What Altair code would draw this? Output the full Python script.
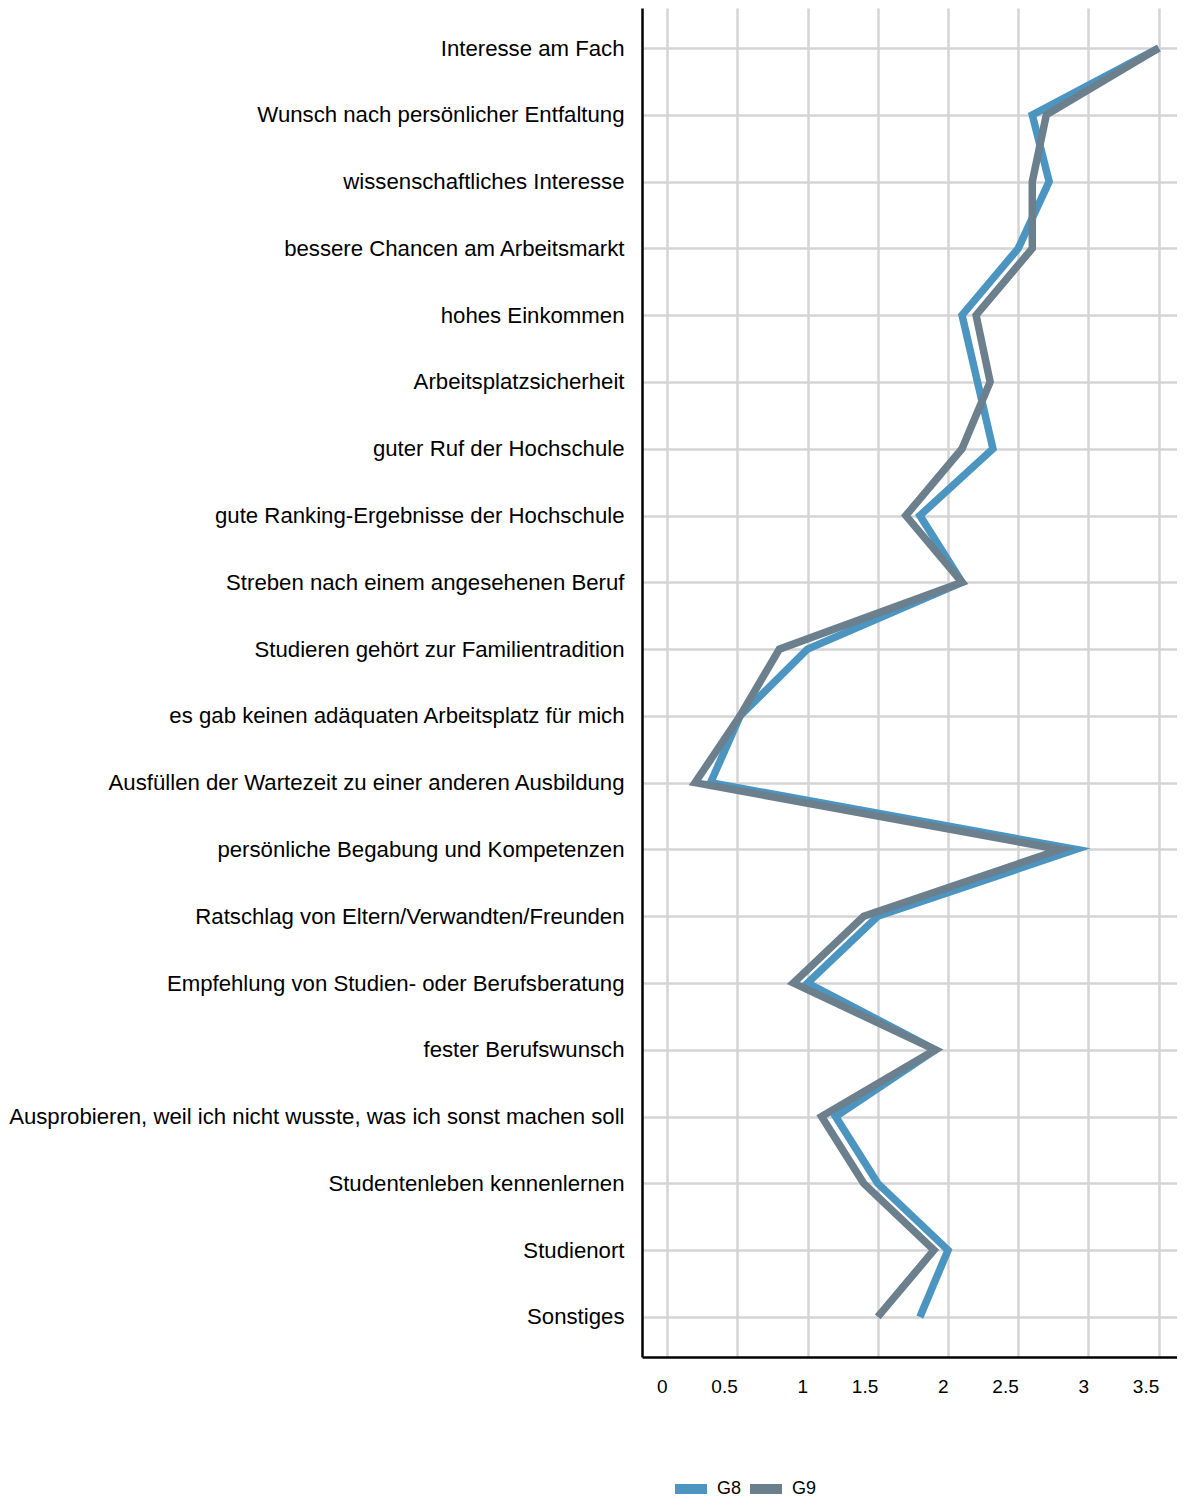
import altair as alt
import pandas as pd

categories = [
    "Interesse am Fach",
    "Wunsch nach persönlicher Entfaltung",
    "wissenschaftliches Interesse",
    "bessere Chancen am Arbeitsmarkt",
    "hohes Einkommen",
    "Arbeitsplatzsicherheit",
    "guter Ruf der Hochschule",
    "gute Ranking-Ergebnisse der Hochschule",
    "Streben nach einem angesehenen Beruf",
    "Studieren gehört zur Familientradition",
    "es gab keinen adäquaten Arbeitsplatz für mich",
    "Ausfüllen der Wartezeit zu einer anderen Ausbildung",
    "persönliche Begabung und Kompetenzen",
    "Ratschlag von Eltern/Verwandten/Freunden",
    "Empfehlung von Studien- oder Berufsberatung",
    "fester Berufswunsch",
    "Ausprobieren, weil ich nicht wusste, was ich sonst machen soll",
    "Studentenleben kennenlernen",
    "Studienort",
    "Sonstiges",
]
g8 = [3.5, 2.6, 2.72, 2.5, 2.1, 2.21, 2.32, 1.8, 2.1, 1.0, 0.52, 0.31, 2.91, 1.5, 1.0, 1.91, 1.2, 1.5, 2.0, 1.8]
g9 = [3.5, 2.7, 2.6, 2.6, 2.2, 2.3, 2.1, 1.7, 2.1, 0.8, 0.52, 0.2, 2.8, 1.4, 0.9, 1.91, 1.1, 1.4, 1.9, 1.5]
series = ["G8", "G9"]
colors = ["#4C95C0", "#6B7F8C"]
x_ticks = [0, 0.5, 1, 1.5, 2, 2.5, 3, 3.5]

rows = []
for name, vals in zip(series, [g8, g9]):
    for i, (c, v) in enumerate(zip(categories, vals)):
        rows.append({"Gruppe": name, "Motiv": c, "Wert": v, "idx": i})
df = pd.DataFrame(rows)

FONT = "Liberation Sans"

chart = alt.Chart(df).mark_line(
    strokeWidth=7.5, strokeCap="butt", strokeJoin="miter"
).encode(
    x=alt.X(
        "Wert:Q",
        scale=alt.Scale(domain=[-0.178, 3.63], nice=False, zero=False),
        axis=alt.Axis(
            values=x_ticks, title=None, ticks=False, labelAlign="right", format="~g",
            labelPadding=20, labelFontSize=19, labelFont=FONT, labelColor="#000",
            domainColor="#000", domainWidth=2.5, gridColor="#d4d4d4", gridWidth=2.5,
            labelFlush=False, labelOverlap=False,
        ),
    ),
    y=alt.Y(
        "Motiv:N",
        sort=categories,
        scale=alt.Scale(type="point", padding=0.6),
        axis=alt.Axis(
            title=None, ticks=False, labelPadding=18, labelFontSize=22.2, labelFont=FONT,
            labelColor="#000", domainColor="#000", domainWidth=2.5, grid=True,
            gridColor="#d4d4d4", gridWidth=2.5, labelLimit=1000,
        ),
    ),
    color=alt.Color(
        "Gruppe:N",
        scale=alt.Scale(domain=series, range=colors),
        legend=alt.Legend(
            title=None, orient="none", legendX=36, legendY=1468, direction="horizontal",
            symbolType="M-2,0H2", symbolStrokeWidth=10, symbolSize=256,
            labelOffset=13, labelFontSize=18, labelFont=FONT, labelColor="#000",
            columnPadding=-12,
        ),
    ),
    order="idx:Q",
).properties(
    width=535, height=1349, padding={"left": 0, "top": 0, "right": 0, "bottom": 0}
).configure_view(stroke=None)

chart.save("out.html", embed_options={"renderer": "svg", "actions": False})
